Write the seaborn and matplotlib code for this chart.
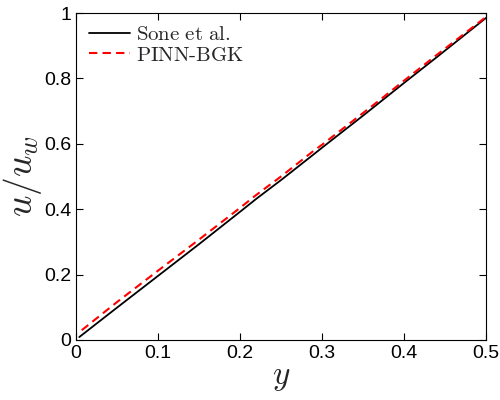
import pandas as pd
import matplotlib
matplotlib.use("Agg")
import matplotlib.pyplot as plt
import seaborn as sns

y_sone = [0.004, 0.05, 0.1, 0.15, 0.2, 0.22, 0.25, 0.29, 0.3, 0.35, 0.37, 0.4, 0.44, 0.45, 0.5]
u_sone = [0.009, 0.099, 0.196, 0.293, 0.392, 0.432, 0.489, 0.568, 0.588, 0.686, 0.726, 0.786, 0.865, 0.885, 0.985]
y_pinn = [0.007, 0.05, 0.1, 0.15, 0.2, 0.22, 0.25, 0.29, 0.3, 0.35, 0.37, 0.4, 0.44, 0.45, 0.5]
u_pinn = [0.030, 0.116, 0.212, 0.307, 0.404, 0.444, 0.500, 0.579, 0.597, 0.694, 0.733, 0.793, 0.872, 0.891, 0.988]
labels = [r"$\mathrm{Sone\ et\ al.}$", r"$\mathrm{PINN\text{-}BGK}$"]

df = pd.concat([
    pd.DataFrame({"y": y_sone, "u": u_sone, "src": labels[0]}),
    pd.DataFrame({"y": y_pinn, "u": u_pinn, "src": labels[1]}),
])

sns.set_style("ticks")
plt.rcParams["font.family"] = ["Liberation Sans", "DejaVu Sans"]
plt.rcParams["mathtext.fontset"] = "cm"

fig = plt.figure(figsize=(5, 4), dpi=100)
ax = fig.add_axes([0.152, 0.15, 0.82, 0.8175])
sns.lineplot(data=df, x="y", y="u", hue="src", style="src",
             palette=["black", "red"], dashes=[(None, None), (4, 2.5)],
             sort=False, estimator=None, ax=ax)
for line, lw in zip(ax.lines, [1.3, 1.5]):
    line.set_linewidth(lw)

ax.set_xlim(0, 0.5)
ax.set_ylim(0, 1)
ax.set_xticks([0, 0.1, 0.2, 0.3, 0.4, 0.5])
ax.set_xticklabels(["0", "0.1", "0.2", "0.3", "0.4", "0.5"])
ax.set_yticks([0, 0.2, 0.4, 0.6, 0.8, 1])
ax.set_yticklabels(["0", "0.2", "0.4", "0.6", "0.8", "1"])
ax.tick_params(direction="in", top=True, right=True, labelsize=14, length=5,
               width=0.8, colors="black")
for s in ax.spines.values():
    s.set_linewidth(0.8)
    s.set_color("black")
ax.set_xlabel(r"$y$", fontsize=24, labelpad=0)
ax.set_ylabel(r"$u/u_w$", fontsize=27, labelpad=0)

leg = ax.legend(loc="upper left", frameon=False, fontsize=15, handlelength=2.0,
                handletextpad=0.3, labelspacing=0.05, borderaxespad=0.2)
leg.set_title(None)
for h, lw in zip(leg.get_lines(), [1.3, 1.5]):
    h.set_linewidth(lw)

fig.savefig("out.png", dpi=100)
